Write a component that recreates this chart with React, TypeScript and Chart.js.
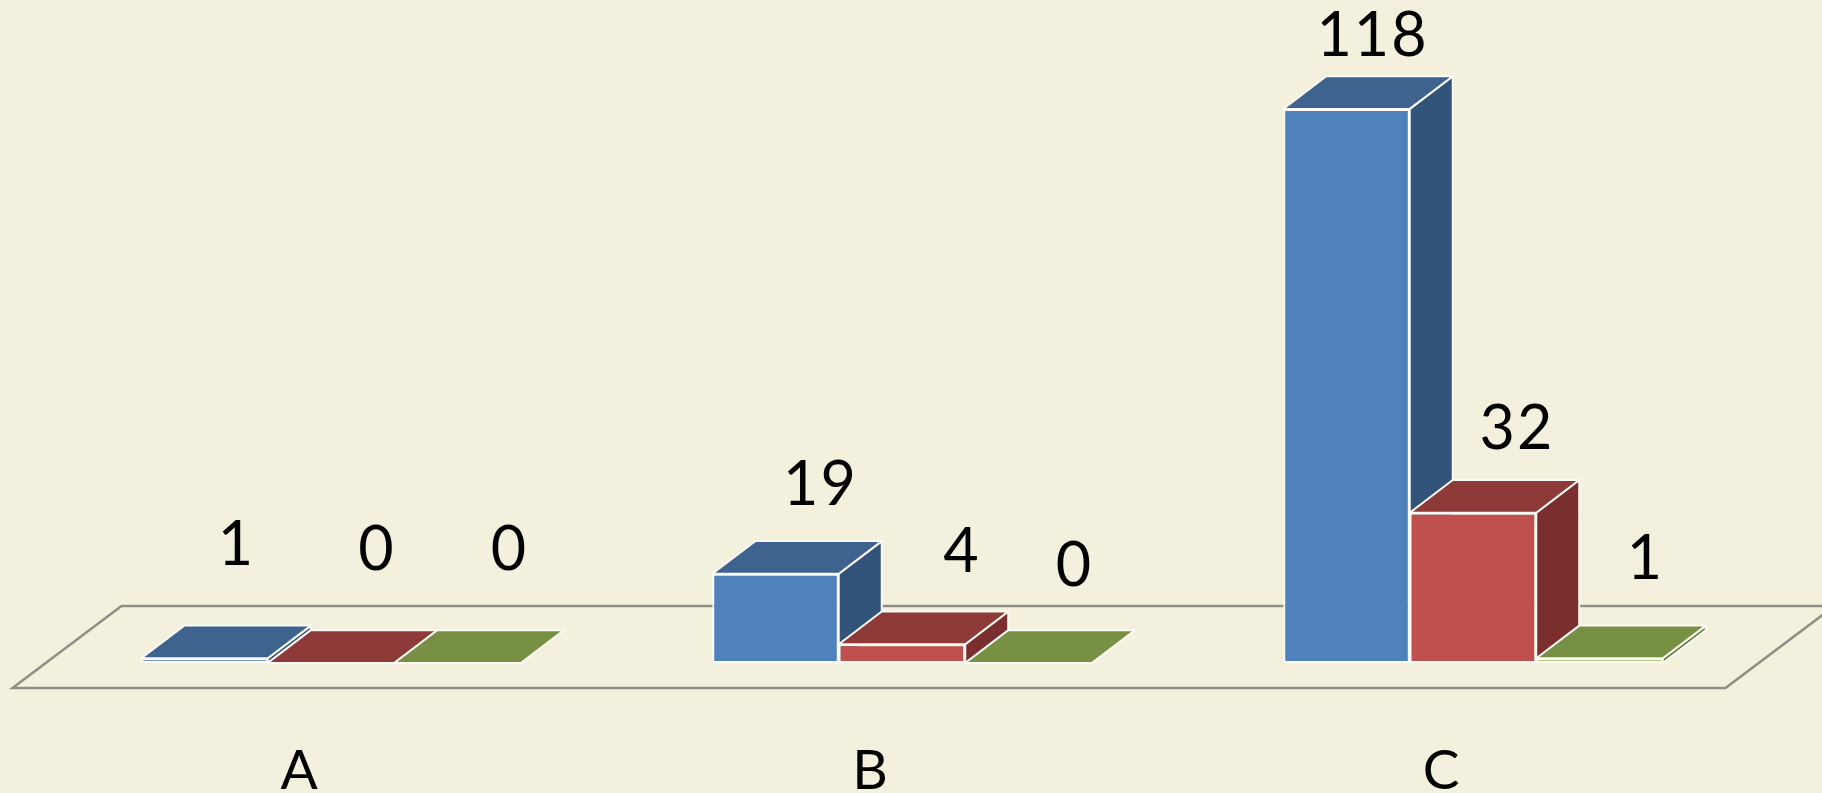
import React, { useEffect, useRef } from "react";
import { Chart, registerables } from "chart.js";

Chart.register(...registerables);

const categories = ["A", "B", "C"];
const seriesBlue = [1, 19, 118];
const seriesRed = [0, 4, 32];
const seriesGreen = [0, 0, 1];

const seriesValues = [seriesBlue, seriesRed, seriesGreen];
const frontColors = ["#4F81BD", "#C0504D", "#9BBB59"];
const topColors = ["#3E638F", "#8E3A39", "#779043"];
const sideColors = ["#32537A", "#7A2E2D", "#667B39"];

const W = 1822;
const H = 793;
const BG = "#F3F0DE";
const DEPTH_X = 43;
const DEPTH_Y = 32.7;

// Label anchor relative to the centre / top of each bar's front face: [dx, dy]
const labelNudges = [
  [[32, -93], [46, -93], [52, -93]],
  [[45, -69], [60, -72], [46, -77]],
  [[26, -53], [44, -64], [46, -79]],
];

const bar3d = {
  id: "bar3d",
  beforeDatasetsDraw(chart: any) {
    const { ctx, scales } = chart;
    const xs = scales.x;
    const base = scales.y.getPixelForValue(0);

    // floor
    const fl = xs.left - 33;
    const fr = xs.right - 33;
    const fy = base + 25;
    ctx.save();
    ctx.strokeStyle = "#8F8F85";
    ctx.lineWidth = 2.5;
    ctx.lineJoin = "miter";
    ctx.beginPath();
    ctx.moveTo(fl, fy);
    ctx.lineTo(fr, fy);
    ctx.lineTo(fr + 109, fy - 82);
    ctx.lineTo(fl + 109, fy - 82);
    ctx.closePath();
    ctx.stroke();
    ctx.restore();

    // bars, left to right so that each one covers its neighbour's side
    chart.data.datasets.forEach((_: any, d: number) => {
      const meta = chart.getDatasetMeta(d);
      meta.data.forEach((el: any) => {
        const { x, y, base: b, width } = el.getProps(["x", "y", "base", "width"], true);
        const l = x - width / 2;
        const r = x + width / 2;
        if (Math.abs(b - y) > 0.5) el.draw(ctx);
        ctx.save();
        ctx.strokeStyle = "#FBFAF4";
        ctx.lineWidth = 2;
        ctx.lineJoin = "round";
        if (Math.abs(b - y) > 0.5) {
          ctx.fillStyle = sideColors[d];
          ctx.beginPath();
          ctx.moveTo(r, y);
          ctx.lineTo(r + DEPTH_X, y - DEPTH_Y);
          ctx.lineTo(r + DEPTH_X, b - DEPTH_Y);
          ctx.lineTo(r, b);
          ctx.closePath();
          ctx.fill();
          ctx.stroke();
        }
        ctx.fillStyle = topColors[d];
        ctx.beginPath();
        ctx.moveTo(l, y);
        ctx.lineTo(l + DEPTH_X, y - DEPTH_Y);
        ctx.lineTo(r + DEPTH_X, y - DEPTH_Y);
        ctx.lineTo(r, y);
        ctx.closePath();
        ctx.fill();
        ctx.stroke();
        ctx.restore();
      });
    });

    // value labels
    ctx.save();
    ctx.fillStyle = "#000000";
    ctx.font = '61px Lato, "Open Sans", sans-serif';
    (ctx as any).letterSpacing = "2px";
    ctx.textAlign = "center";
    ctx.textBaseline = "alphabetic";
    chart.data.datasets.forEach((ds: any, d: number) => {
      chart.getDatasetMeta(d).data.forEach((el: any, i: number) => {
        const { x, y } = el.getProps(["x", "y"], true);
        const [dx, dy] = labelNudges[i][d];
        ctx.fillText(String(ds.data[i]), x + dx, y + dy);
      });
    });
    ctx.restore();
    return false;
  },
};

export default function App() {
  const ref = useRef<HTMLCanvasElement>(null);
  useEffect(() => {
    const chart = new Chart(ref.current!, {
      type: "bar",
      data: {
        labels: categories,
        datasets: seriesValues.map((data, d) => ({
          data,
          backgroundColor: frontColors[d],
          borderColor: "#FBFAF4",
          borderWidth: 2,
          borderSkipped: false,
        })),
      },
      options: {
        animation: false,
        responsive: false,
        devicePixelRatio: 1,
        layout: { padding: { left: 45.5, right: 63.5, top: 99.5, bottom: 0 } },
        datasets: { bar: { categoryPercentage: 0.6646, barPercentage: 1 } },
        plugins: { legend: { display: false }, title: { display: false }, tooltip: { enabled: false } },
        scales: {
          x: {
            grid: { display: false },
            border: { display: false },
            afterFit: (s: any) => {
              s.height = 130;
            },
            ticks: {
              color: "#000000",
              font: { family: 'Lato, "Open Sans", sans-serif', size: 55 },
              padding: 67,
              labelOffset: -32,
              maxRotation: 0,
              autoSkip: false,
            },
          },
          y: { display: false, min: 0, max: 120 },
        },
      } as any,
      plugins: [bar3d as any],
    });
    return () => chart.destroy();
  }, []);
  return (
    <div style={{ position: "fixed", left: 0, top: 0, width: W, height: H, background: BG, overflow: "hidden" }}>
      <canvas ref={ref} width={W} height={H} style={{ display: "block", width: W, height: H }} />
    </div>
  );
}
